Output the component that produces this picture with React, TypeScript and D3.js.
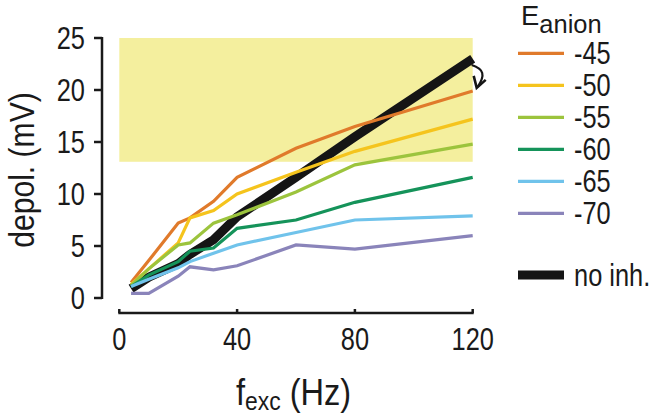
import React from "react";
import * as d3 from "d3";

// frequencies (Hz) at which depolarisation was sampled
const freqs = [4, 10, 20, 24, 32, 40, 60, 80, 120];

const anionLabels = ["-45", "-50", "-55", "-60", "-65", "-70"];
const anionColors = ["#e07a2b", "#f5c41d", "#9cc43d", "#15935a", "#70c3eb", "#8a84ba"];

const depol45 = [1.5, 3.6, 7.2, 7.7, 9.3, 11.6, 14.4, 16.5, 19.9];
const depol50 = [1.3, 2.8, 5.3, 7.7, 8.4, 10.0, 12.1, 14.1, 17.2];
const depol55 = [1.2, 2.8, 5.1, 5.3, 7.2, 8.0, 10.2, 12.8, 14.8];
const depol60 = [1.1, 2.2, 3.5, 4.5, 4.8, 6.7, 7.5, 9.2, 11.6];
const depol65 = [1.1, 1.8, 2.9, 3.5, 4.3, 5.1, 6.3, 7.5, 7.9];
const depol70 = [0.45, 0.45, 2.1, 3.0, 2.7, 3.1, 5.1, 4.7, 6.0];
const depolNoInh = [0.9, 2.0, 3.3, 4.2, 5.6, 7.8, 11.6, 15.5, 23.0];

const anionSeries = [depol45, depol50, depol55, depol60, depol65, depol70];

const xTicks = [0, 40, 80, 120];
const yTicks = [0, 5, 10, 15, 20, 25];
// shaded band of the y axis
const band = [13.1, 25];

const FONT = "'Liberation Sans', Arial, sans-serif";

// narrow-looking text: squeeze horizontally around the anchor point
const Narrow = ({ x, y, size, anchor = "start", sx = 0.82, children }: any) => (
    <text
        transform={`translate(${x},${y}) scale(${sx},1)`}
        fontSize={size}
        textAnchor={anchor}
        fontFamily={FONT}
        fill="#1a1a1a"
    >
        {children}
    </text>
);

const App = () => {
    const xScale = d3.scaleLinear().domain([0, 120]).range([119.3, 472.7]);
    const yScale = d3.scaleLinear().domain([0, 25]).range([298, 38]);

    const lineGen = d3
        .line<number>()
        .x((d, i) => xScale(freqs[i]))
        .y(d => yScale(d));

    const axisX = 102;
    const axisY = 313;

    const legX = 518;
    const legY0 = 53.3;
    const legStep = 32;

    const endX = xScale(120);
    const aStart = [endX - 1, yScale(22.4)];
    const aEnd = [endX + 5, yScale(20.3)];

    return (
        <svg
            width={655}
            height={416}
            style={{ position: "absolute", left: 0, top: 0, background: "#fff" }}
        >
            <rect
                x={xScale(0)}
                y={yScale(band[1])}
                width={xScale(120) - xScale(0)}
                height={yScale(band[0]) - yScale(band[1])}
                fill="#f4ef9e"
            />

            {/* y axis */}
            <line x1={axisX} x2={axisX} y1={yScale(25) - 1} y2={yScale(0) + 1} stroke="#1a1a1a" strokeWidth={2.5} />
            {yTicks.map(t => (
                <g key={t}>
                    <line x1={axisX - 8} x2={axisX} y1={yScale(t)} y2={yScale(t)} stroke="#1a1a1a" strokeWidth={2.5} />
                    <Narrow x={85} y={yScale(t) + 11} size={31} anchor="end">
                        {t}
                    </Narrow>
                </g>
            ))}

            {/* x axis */}
            <line x1={xScale(0) - 1} x2={xScale(120) + 1} y1={axisY} y2={axisY} stroke="#1a1a1a" strokeWidth={2.5} />
            {xTicks.map(t => (
                <g key={t}>
                    <line x1={xScale(t)} x2={xScale(t)} y1={axisY - 4} y2={axisY} stroke="#1a1a1a" strokeWidth={2.5} />
                    <Narrow x={xScale(t)} y={350} size={31} anchor="middle">
                        {t}
                    </Narrow>
                </g>
            ))}

            {/* axis titles */}
            <g transform="translate(34,170) rotate(-90)">
                <text fontSize={35} textAnchor="middle" fontFamily={FONT} fill="#1a1a1a" transform="scale(0.86,1)">
                    depol. (mV)
                </text>
            </g>
            <g transform="translate(236,405) scale(0.88,1)">
                <text fontSize={37} fontFamily={FONT} fill="#1a1a1a">
                    f
                    <tspan fontSize={26} dy={5}>exc</tspan>
                    <tspan dy={-5}> (Hz)</tspan>
                </text>
            </g>

            {/* data */}
            <path d={lineGen(depolNoInh) || ""} fill="none" stroke="#151515" strokeWidth={9} strokeLinejoin="miter" />
            {anionSeries.map((s, i) => (
                <path key={i} d={lineGen(s) || ""} fill="none" stroke={anionColors[i]} strokeWidth={3.2} />
            ))}

            {/* curved arrow */}
            <path
                d={`M${aStart[0]},${aStart[1]} C${aStart[0] + 12},${aStart[1] + 4} ${aEnd[0] + 8},${aEnd[1] - 12} ${aEnd[0]},${aEnd[1]}`}
                fill="none"
                stroke="#151515"
                strokeWidth={2.2}
            />
            <path
                d={`M${aEnd[0] - 4},${aEnd[1] - 11} L${aEnd[0] - 1},${aEnd[1] + 1} L${aEnd[0] + 8},${aEnd[1] - 7}`}
                fill="none"
                stroke="#151515"
                strokeWidth={2.6}
            />

            {/* legend */}
            <g transform={`translate(521,25) scale(0.98,1)`}>
                <text fontSize={28} fontFamily={FONT} fill="#1a1a1a">
                    E
                    <tspan fontSize={26} dy={8}>anion</tspan>
                </text>
            </g>
            {anionLabels.map((lab, i) => (
                <g key={lab}>
                    <line
                        x1={legX}
                        x2={legX + 46}
                        y1={legY0 + i * legStep}
                        y2={legY0 + i * legStep}
                        stroke={anionColors[i]}
                        strokeWidth={3.2}
                    />
                    <Narrow x={574} y={legY0 + i * legStep + 11} size={31}>
                        {lab}
                    </Narrow>
                </g>
            ))}
            <line x1={legX} x2={legX + 46} y1={275} y2={275} stroke="#151515" strokeWidth={9} />
            <Narrow x={574} y={286} size={31}>
                no inh.
            </Narrow>
        </svg>
    );
};

export default App;
